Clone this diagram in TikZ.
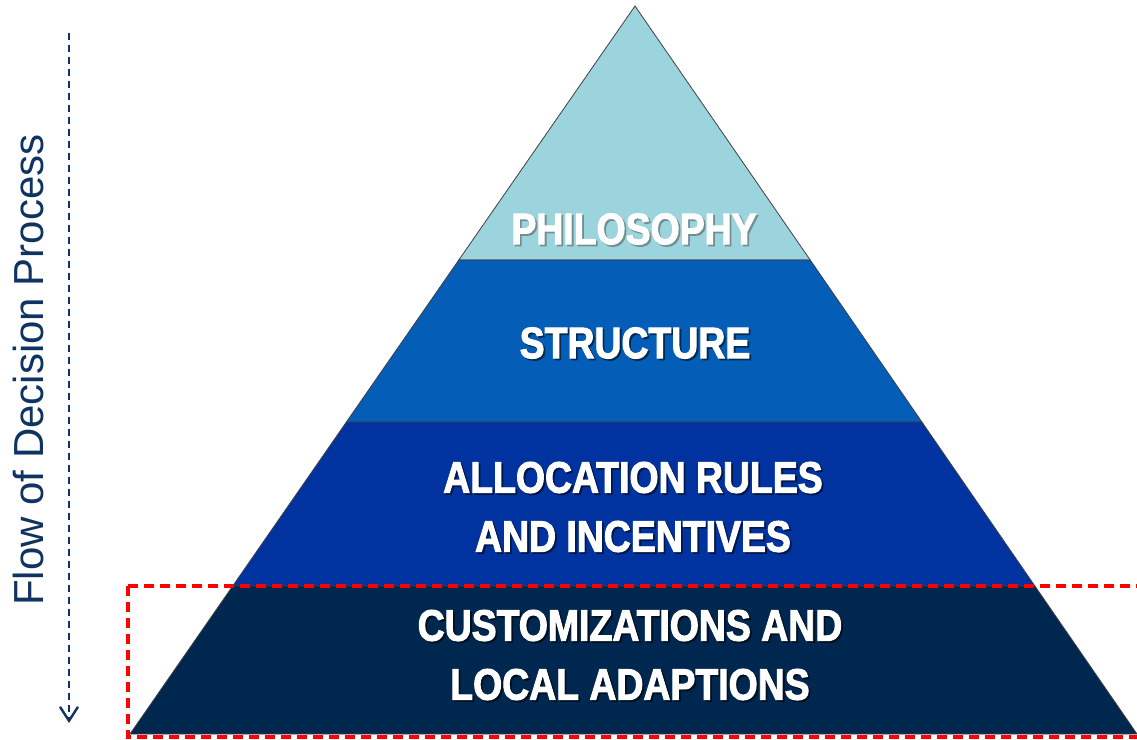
\documentclass[tikz,border=0pt]{standalone}
\usepackage{fontspec}
\setmainfont{Liberation Sans}
\newfontfamily\bandfont[FakeStretch=0.85, FakeBold=2.2]{Liberation Sans Bold}
\usetikzlibrary{arrows.meta}
\definecolor{philo}{HTML}{9BD4DD}
\definecolor{struct}{HTML}{045DB6}
\definecolor{alloc}{HTML}{0033A0}
\definecolor{custom}{HTML}{00274F}
\definecolor{flownavy}{HTML}{0F3461}
\definecolor{redbox}{HTML}{FF0000}
% one line of white label text over a darker offset copy of itself
\newcommand{\shline}[2]{%
  \rlap{\kern1.8pt\raisebox{-1.8pt}[0pt][0pt]{\color{#1}#2}}#2}
\tikzset{
  band/.style={draw=black!75, line width=0.8pt, line join=miter},
  bandtext/.style={text=white, font=\bandfont\fontsize{44}{59}\selectfont, align=center, inner sep=0pt},
  flowline/.style={draw=flownavy, line width=2.4pt, dash pattern=on 7pt off 5pt,
    -{Straight Barb[length=14pt,width=18pt,line width=2.4pt]}},
  focusbox/.style={draw=redbox, line width=3.8pt, dash pattern=on 10pt off 6pt}
}
\begin{document}
\begin{tikzpicture}[x=1pt,y=-1pt]
\useasboundingbox (0,0) rectangle (1137,739);

% corner points of the pyramid and its band boundaries
\coordinate (apex) at (635,6);
\coordinate (l1) at (458.8,260);  \coordinate (r1) at (810.2,260);
\coordinate (l2) at (346.4,422);  \coordinate (r2) at (921.9,422);
\coordinate (l3) at (232.7,586);  \coordinate (r3) at (1034.9,586);
\coordinate (l4) at (130,734);    \coordinate (r4) at (1137,734);

% the four bands
\path[band, fill=philo]  (apex) -- (r1) -- (l1) -- cycle;
\path[band, fill=struct] (l1) -- (r1) -- (r2) -- (l2) -- cycle;
\path[band, fill=alloc]  (l2) -- (r2) -- (r3) -- (l3) -- cycle;
\path[band, fill=custom] (l3) -- (r3) -- (r4) -- (l4) -- cycle;

% band labels
\node[bandtext] (philo)  at (634,229) {\shline{black!30!philo!70!gray}{PHILOSOPHY}};
\node[bandtext] (struct) at (635,343) {\shline{black!55!struct}{STRUCTURE}};
\node[bandtext] (alloc)  at (633,507)
  {\shline{black!55!alloc}{ALLOCATION RULES}\\\shline{black!55!alloc}{AND INCENTIVES}};
\node[bandtext] (custom) at (630,655)
  {\shline{black!60!custom}{CUSTOMIZATIONS AND}\\\shline{black!60!custom}{LOCAL ADAPTIONS}};

% highlighted bottom layer
\draw[focusbox] (128,586) rectangle (1150,737);

% flow arrow and its caption
\coordinate (flowtop) at (69,33);
\coordinate (flowend) at (69,723);
\draw[flowline] (flowtop) -- (flowend);
\node[rotate=90, anchor=base, text=flownavy, font=\fontsize{42}{42}\selectfont, inner sep=0pt]
  (flow) at (43,370) {Flow of Decision Process};
\end{tikzpicture}
\end{document}
